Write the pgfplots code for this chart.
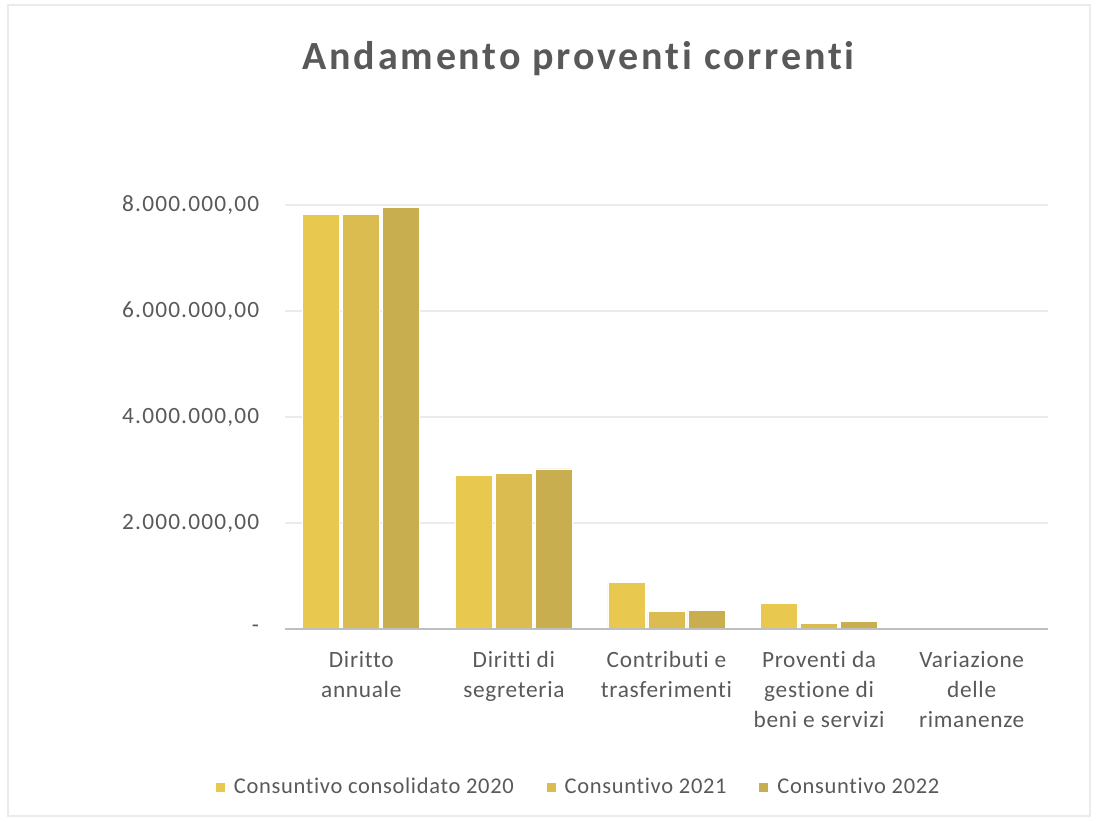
\documentclass[border=0pt]{standalone}
\usepackage{pgfplots}
\pgfplotsset{compat=1.18}
\usepackage{fontspec}
\setmainfont{Carlito}[Ligatures={NoCommon,NoRequired,NoContextual,NoDiscretionary}]
\definecolor{cA}{RGB}{233,200,80}
\definecolor{cB}{RGB}{218,188,80}
\definecolor{cC}{RGB}{200,174,78}
\definecolor{txt}{RGB}{89,89,89}
\definecolor{grd}{RGB}{235,235,235}
\definecolor{axl}{RGB}{191,191,191}
\begin{document}
\begin{tikzpicture}[x=1pt,y=1pt]
\draw[color=grd, line width=1pt] (-166.2,374.4) rectangle (483,-112);
\path (-171,377.4) rectangle (492.6,-115.8);
\begin{axis}[
  at={(0,0)}, anchor=south west,
  scale only axis, width=457.8pt, height=254.4pt,
  xmin=-0.5, xmax=4.5, ymin=0, ymax=8000000,
  ybar=1.8pt, bar width=22.2pt,
  axis line style={draw=none},
  ymajorgrids, grid style={grd, line width=0.8pt},
  xtick={0,1,2,3,4},
  xticklabels={{Diritto\\annuale},{Diritti di\\segreteria},{Contributi e\\trasferimenti},{Proventi da\\gestione di\\beni e servizi},{Variazione\\delle\\rimanenze}},
  xticklabel style={align=center, font=\fontsize{14}{18}\selectfont\addfontfeatures{LetterSpace=3}, text=txt, yshift=-10pt},
  ytick={0,2000000,4000000,6000000,8000000},
  yticklabels={-,{2.000.000,00},{4.000.000,00},{6.000.000,00},{8.000.000,00}},
  yticklabel style={font=\fontsize{14}{16}\selectfont\addfontfeatures{LetterSpace=5}, text=txt, xshift=-12pt},
  major tick length=0pt,
  scaled y ticks=false,
  legend columns=3,
  legend style={draw=none, fill=none, at={(0.385,-0.3726)}, anchor=center,
    font=\fontsize{13.5}{16}\selectfont\addfontfeatures{LetterSpace=3}, text=txt,
    /tikz/every odd column/.append style={column sep=3pt},
    /tikz/every even column/.append style={column sep=17pt}},
  legend image code/.code={\fill[#1] (0pt,-3pt) rectangle (6pt,3pt);},
  title={\addfontfeatures{LetterSpace=7}\textbf{Andamento proventi correnti}},
  title style={font=\fontsize{24}{28}\selectfont, text=txt, at={(0.3866,1)}, anchor=center, yshift=81.6pt},
  clip=false,
]
\addplot[fill=cA, draw=white, line width=0.5pt] coordinates {(0,7830000) (1,2890000) (2,870000) (3,480000) (4,0)};
\addplot[fill=cB, draw=white, line width=0.5pt] coordinates {(0,7830000) (1,2940000) (2,330000) (3,110000) (4,0)};
\addplot[fill=cC, draw=white, line width=0.5pt] coordinates {(0,7960000) (1,3020000) (2,350000) (3,150000) (4,0)};
\legend{Consuntivo consolidato 2020, Consuntivo 2021, Consuntivo 2022}
\draw[axl, line width=1.6pt] (axis cs:-0.5,0) -- (axis cs:4.5,0);
\end{axis}
\end{tikzpicture}
\end{document}
